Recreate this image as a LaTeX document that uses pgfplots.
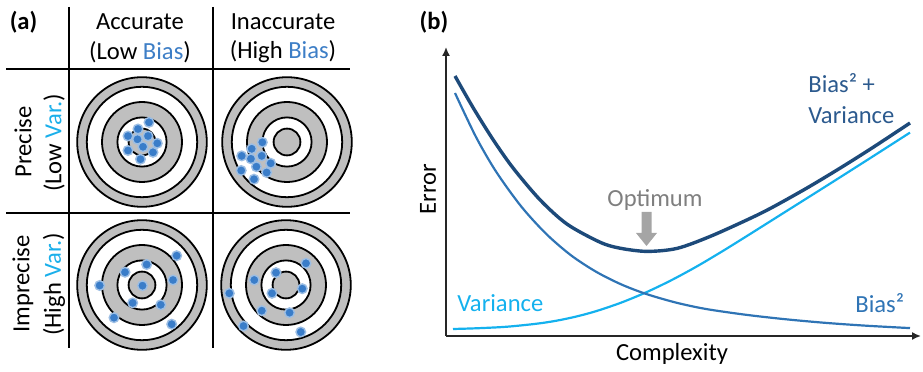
\documentclass[border=0pt]{standalone}
\usepackage{pgfplots}
\pgfplotsset{compat=1.18}
\usepackage{pgfplotstable}
\usepackage{fontspec}
\setmainfont{Carlito}
\usetikzlibrary{arrows.meta}

\definecolor{totalblue}{HTML}{1D4A7A}
\definecolor{biasblue}{HTML}{2F74B5}
\definecolor{varblue}{HTML}{14B1EE}
\definecolor{dotblue}{HTML}{3A7DC9}
\definecolor{ringgray}{HTML}{BFBFBF}
\definecolor{labelnavy}{HTML}{2C5A8E}
\definecolor{headbias}{HTML}{3D7EC6}
\definecolor{headvar}{HTML}{1AAFEA}
\definecolor{optgray}{HTML}{7F7F7F}
\definecolor{arrowgray}{HTML}{A5A5A5}
\definecolor{axisdark}{HTML}{262626}

\newcommand\lbl{\fontsize{12.3}{14}\selectfont}

% target centres (panel a)
\pgfplotstableread{
x y
142 142
287 142
142 285
286 285
}\targets

% hits on each target
\pgfplotstableread{
x y
149.0 122.3
138.0 129.0
128.0 136.0
148.0 136.0
137.5 139.3
157.3 143.3
143.0 146.8
128.0 150.5
153.0 152.3
140.5 159.2
}\hitsAL
\pgfplotstableread{
x y
262.3 142.3
251.7 148.8
241.7 155.9
261.7 155.9
250.9 158.8
270.7 163.3
256.4 166.7
241.2 170.5
266.7 172.5
254.0 179.2
}\hitsIL
\pgfplotstableread{
x y
176.7 255.7
146.7 264.5
125.0 272.2
99.7 285.5
173.0 280.0
142.5 285.7
132.7 302.9
160.8 304.8
114.0 317.7
171.7 324.2
}\hitsAH
\pgfplotstableread{
x y
306.0 263.3
276.0 272.7
254.3 280.0
302.3 288.7
272.0 293.3
229.3 293.3
261.8 310.7
289.6 312.7
243.5 326.0
300.8 332.0
}\hitsIH

% error curves (panel b)
\pgfplotstableread{
x y
9 260
27 228.5
47 196.5
67 168.1
94 136.2
121 111.9
154 93.8
174 87.8
201 84.6
231 87.6
264 99.5
304 117.5
327 129
361 148
394 167.8
427 188.6
464 213
}\total
\pgfplotstableread{
x y
9 243
30 199
50 164.5
75 129.8
100 102.3
125 80.7
150 64.3
175 51.7
200 42.1
230 33.4
260 27.0
300 21.2
340 16.7
380 13.1
420 10.3
464 7.9
}\biassq
\pgfplotstableread{
x y
7 7
30 7.7
60 9.2
90 12.2
110 15.2
130 19.4
150 24.8
175 33.3
200 43.6
225 55.6
250 69.1
275 83.9
300 99.4
340 124.6
380 149.8
420 175.2
464 203.4
}\variance

\begin{document}
\begin{tikzpicture}
\begin{axis}[
  at={(0,0)}, anchor=south west,
  x=0.5pt, y=0.5pt, y dir=reverse,
  xmin=0, xmax=923, ymin=0, ymax=370,
  enlargelimits=false, hide axis, clip=false,
]
\addplot[draw=none, forget plot] coordinates {(0,0) (923,370)};

% table grid
\addplot[black, line width=1pt] coordinates {(69,7) (69,348)};
\addplot[black, line width=1pt] coordinates {(213,7) (213,348)};
\addplot[black, line width=1pt] coordinates {(6,69) (350,69)};
\addplot[black, line width=1pt] coordinates {(6,213) (350,213)};

% target rings, outermost first
\addplot[black, only marks, mark=*, mark size=32.4pt,
  mark options={fill=ringgray, draw=black, line width=0.9pt}] table {\targets};
\addplot[black, only marks, mark=*, mark size=27.6pt,
  mark options={fill=white, draw=black, line width=0.9pt}] table {\targets};
\addplot[black, only marks, mark=*, mark size=20pt,
  mark options={fill=ringgray, draw=black, line width=0.9pt}] table {\targets};
\addplot[black, only marks, mark=*, mark size=12.3pt,
  mark options={fill=white, draw=black, line width=0.9pt}] table {\targets};
\addplot[black, only marks, mark=*, mark size=6.7pt,
  mark options={fill=ringgray, draw=black, line width=0.9pt}] table {\targets};

% hits
\pgfplotsset{
  hit/.style={dotblue, only marks, mark=*, mark size=2.4pt,
    mark options={fill=dotblue, draw=dotblue!50!white, line width=0.7pt}},
}
\addplot[hit] table {\hitsAL};
\addplot[hit] table {\hitsIL};
\addplot[hit] table {\hitsAH};
\addplot[hit] table {\hitsIH};

% headings of panel a
\node[font=\lbl\bfseries] at (axis cs:23.5,22) {(a)};
\node[font=\lbl] at (axis cs:140,22) {Accurate};
\node[font=\lbl] at (axis cs:140,52) {(Low \textcolor{headbias}{Bias})};
\node[font=\lbl] at (axis cs:283,22) {Inaccurate};
\node[font=\lbl] at (axis cs:283,52) {(High \textcolor{headbias}{Bias})};
\node[font=\lbl, rotate=90] at (axis cs:23,142) {Precise};
\node[font=\lbl, rotate=90] at (axis cs:54,143) {(Low \textcolor{headvar}{Var.})};
\node[font=\lbl, rotate=90] at (axis cs:23,284) {Imprecise};
\node[font=\lbl, rotate=90] at (axis cs:54,284.5) {(High \textcolor{headvar}{Var.})};

% headings of panel b
\node[font=\lbl\bfseries] at (axis cs:434,22) {(b)};
\node[font=\lbl, rotate=90] at (axis cs:428,189) {Error};
\node[font=\lbl] at (axis cs:672,354) {Complexity};
\node[font=\lbl, text=labelnavy, anchor=west, inner sep=0pt] at (axis cs:808,83) {Bias² +};
\node[font=\lbl, text=labelnavy, anchor=west, inner sep=0pt] at (axis cs:808,115) {Variance};
\node[font=\lbl, text=varblue, anchor=west, inner sep=0pt] at (axis cs:457,303) {Variance};
\node[font=\lbl, text=biasblue, anchor=west, inner sep=0pt] at (axis cs:855,303.5) {Bias²};
\node[font=\lbl, text=optgray] at (axis cs:655,200) {Optimum};

% optimum pointer
\addplot[fill=arrowgray, draw=none] coordinates {
  (641.5,212) (651.5,212) (651.5,233) (657,233) (646.5,246) (636,233) (641.5,233)} -- cycle;
\end{axis}

\begin{axis}[
  at={(223pt,17pt)}, anchor=south west,
  scale only axis, width=237.5pt, height=144.5pt,
  xmin=0, xmax=475, ymin=0, ymax=289,
  enlargelimits=false, clip=false,
  axis lines=left,
  axis line style={line width=0.8pt, draw=axisdark, -{Latex[length=4.5pt,width=4pt]}},
  xtick=\empty, ytick=\empty,
]
\addplot[varblue, line width=1.1pt, smooth] table {\variance};
\addplot[biasblue, line width=1.1pt, smooth] table {\biassq};
\addplot[totalblue, line width=1.7pt, smooth] table {\total};
\end{axis}
\end{tikzpicture}
\end{document}
